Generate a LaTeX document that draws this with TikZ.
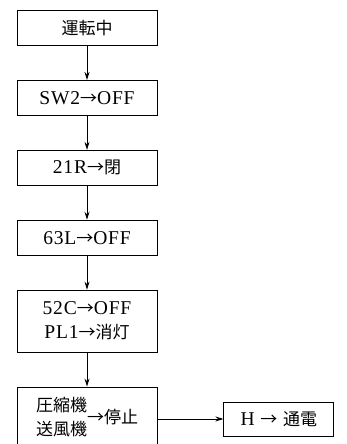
\documentclass[tikz,border=0pt]{standalone}
\usepackage{fontspec}
\setmainfont{Liberation Serif}[Scale=1.15,LetterSpace=4]
\newfontfamily\cjk{Noto Sans CJK JP}
\usetikzlibrary{arrows.meta,positioning}
\newcommand{\tto}{{\cjk →}}
\tikzset{
  >={Stealth[length=8pt,width=5pt]},
  box/.style={draw,line width=0.9pt,minimum width=140pt,minimum height=35pt,
    inner sep=0pt,align=center,font=\fontsize{17}{24}\selectfont},
  flow/.style={->,line width=0.9pt},
}

\begin{document}
\begin{tikzpicture}[x=1pt,y=-1pt]
  \useasboundingbox (0,0) rectangle (347,444);
  \clip (0,0) rectangle (347,444);
  \node[box] (run) at (87,28) {\cjk 運転中};
  \node[box,below=34pt of run] (sw) {SW2\tto OFF};
  \node[box,below=34pt of sw] (rr) {21R\tto{\cjk 閉}};
  \node[box,below=34pt of rr] (lp) {63L\tto OFF};
  \node[box,below=34pt of lp,minimum height=62pt] (mc) {52C\tto OFF\\PL1\tto{\cjk 消灯}};
  \node[box,below=34pt of mc,minimum height=64pt] (stop)
    {{\cjk\begin{tabular}{@{}l@{}}圧縮機\\送風機\end{tabular}→停止}};
  \node[box,right=66pt of stop,minimum width=110pt,minimum height=34pt] (heat)
    {H \tto{} {\cjk 通電}};
  \draw[flow] (run) -- (sw);
  \draw[flow] (sw) -- (rr);
  \draw[flow] (rr) -- (lp);
  \draw[flow] (lp) -- (mc);
  \draw[flow] (mc) -- (stop);
  \draw[flow] (stop) -- (heat);
\end{tikzpicture}
\end{document}
